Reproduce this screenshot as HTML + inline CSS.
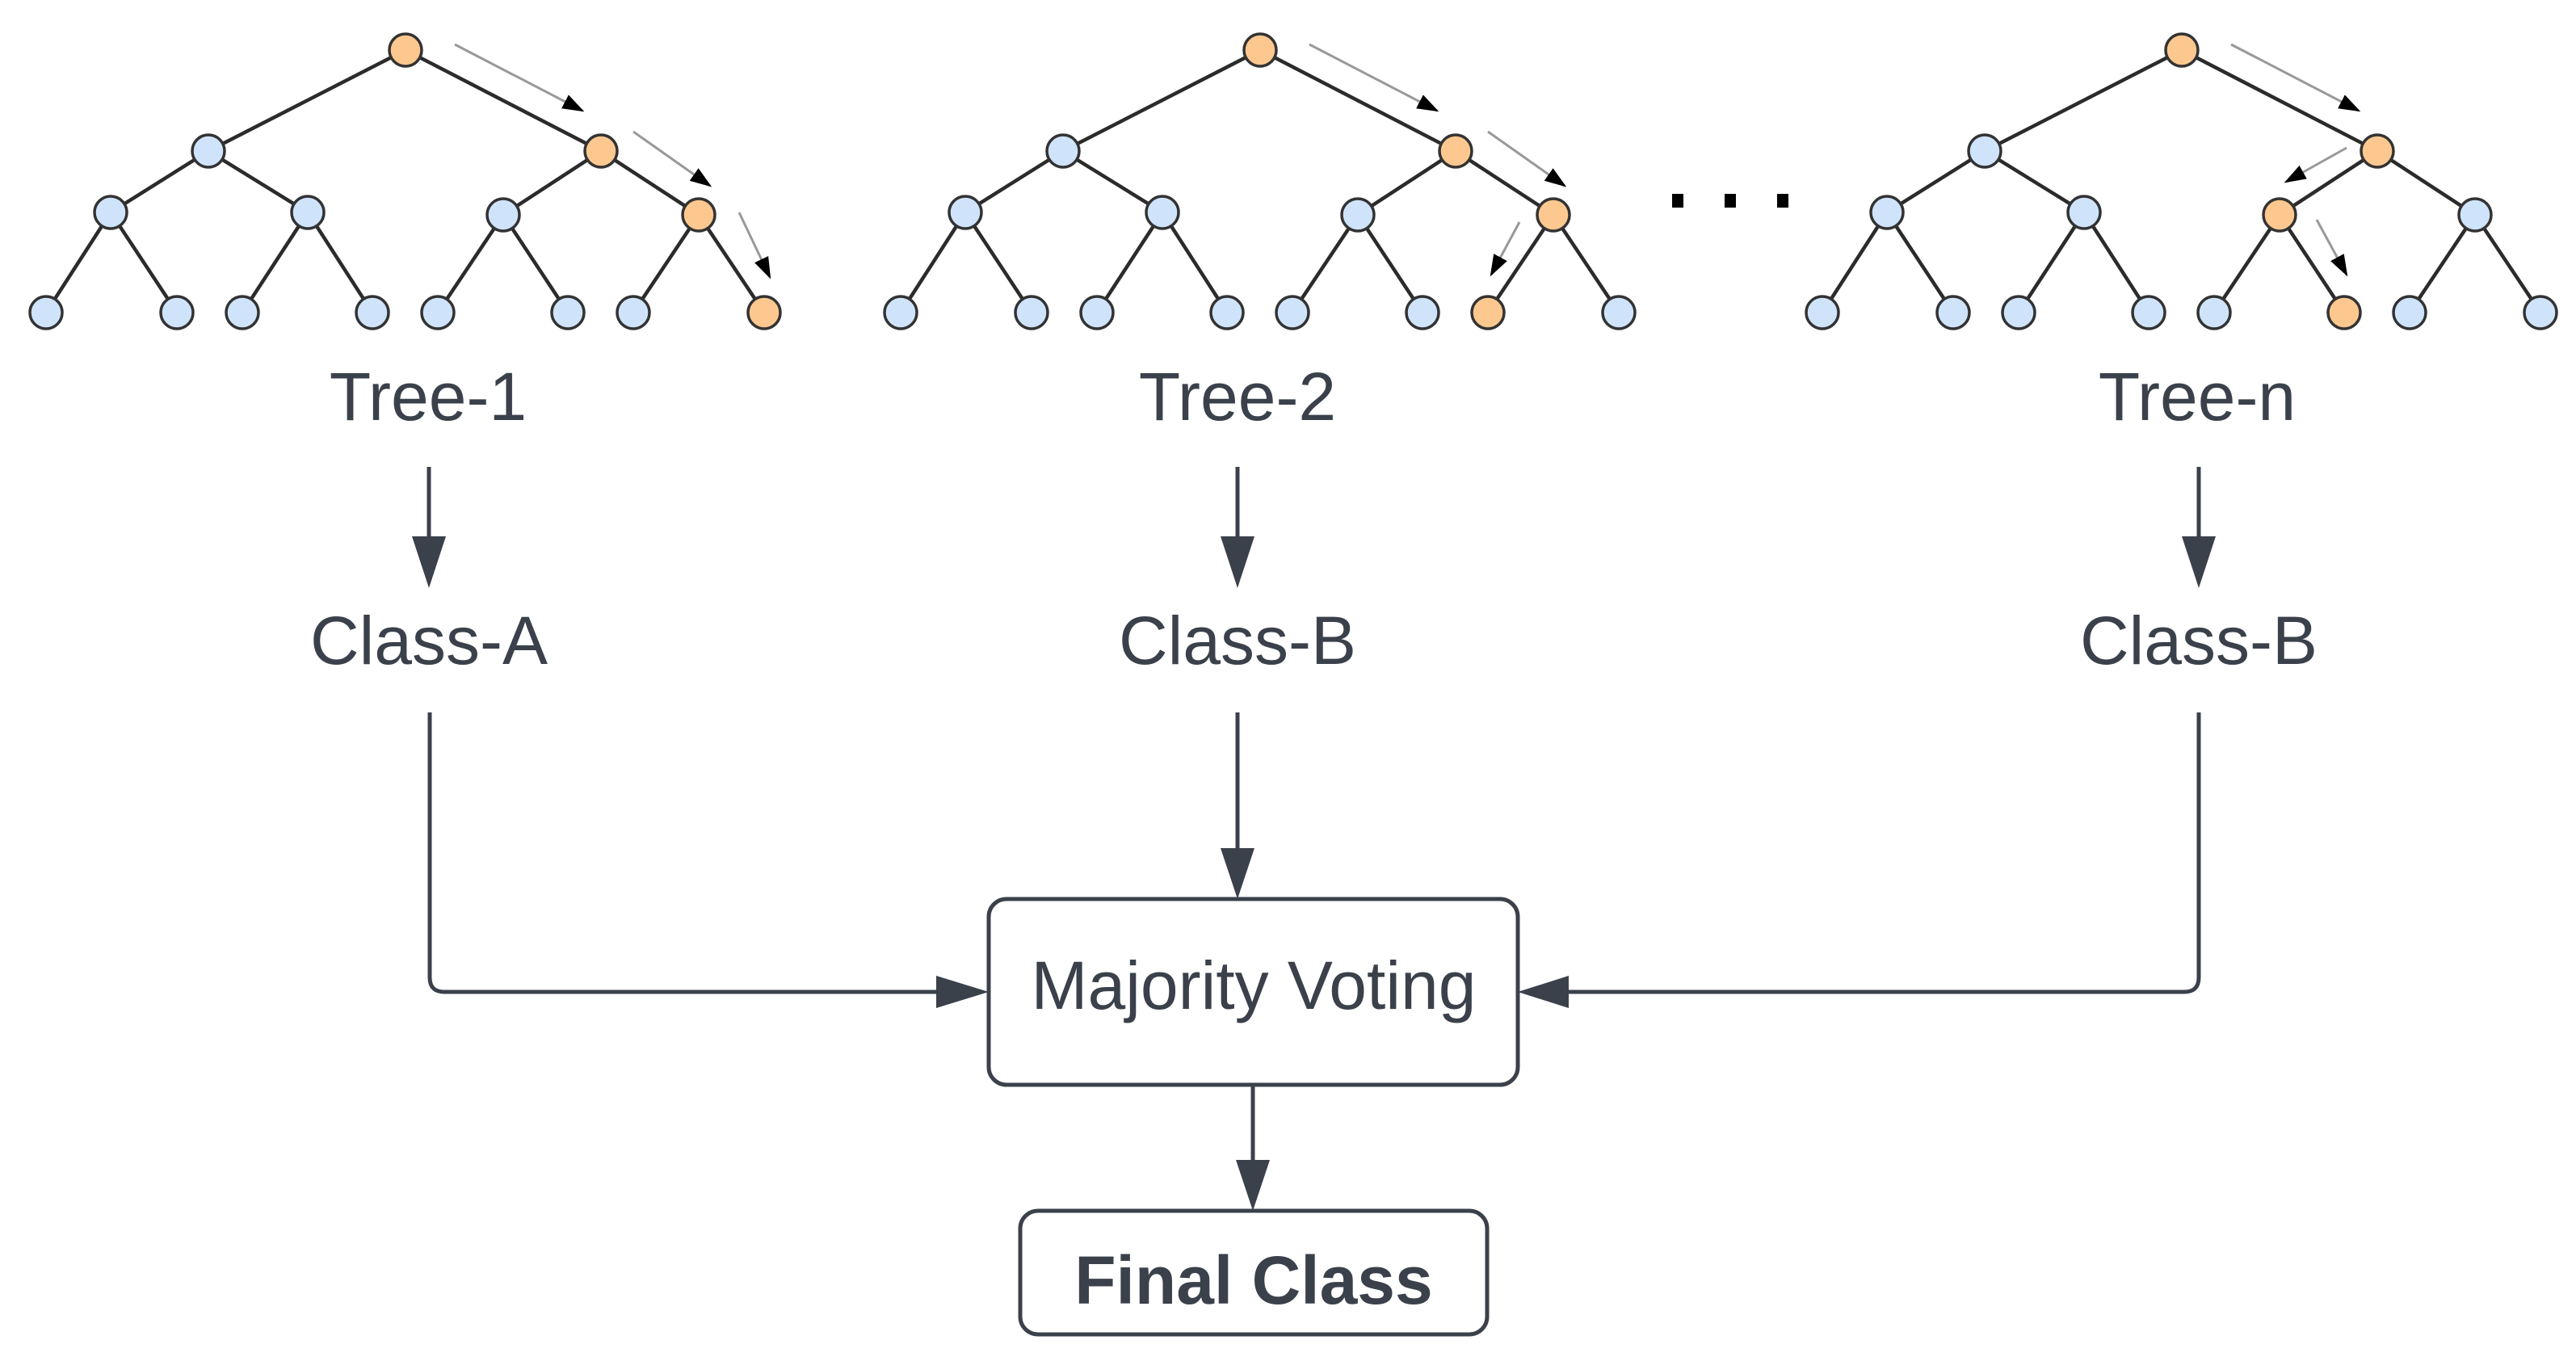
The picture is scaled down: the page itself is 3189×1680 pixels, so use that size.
<!DOCTYPE html>
<html><head><meta charset="utf-8"><style>
html,body{margin:0;padding:0;background:#fff;}
svg{display:block;}
text{font-family:"Liberation Sans",Arial,sans-serif;fill:#3b414b;}
</style></head><body>
<svg width="3189" height="1680" viewBox="0 0 3189 1680" xmlns="http://www.w3.org/2000/svg">
<defs>
<g id="edges" stroke="#2b2b2b" stroke-width="4.5" fill="none">
<line x1="502" y1="62" x2="258" y2="187"/><line x1="502" y1="62" x2="744" y2="187"/>
<line x1="258" y1="187" x2="137" y2="263"/><line x1="258" y1="187" x2="381" y2="263"/>
<line x1="744" y1="187" x2="623" y2="266"/><line x1="744" y1="187" x2="865" y2="266"/>
<line x1="137" y1="263" x2="57" y2="387"/><line x1="137" y1="263" x2="219" y2="387"/>
<line x1="381" y1="263" x2="300" y2="387"/><line x1="381" y1="263" x2="461" y2="387"/>
<line x1="623" y1="266" x2="542" y2="387"/><line x1="623" y1="266" x2="703" y2="387"/>
<line x1="865" y1="266" x2="784" y2="387"/><line x1="865" y1="266" x2="946" y2="387"/>
</g>
<marker id="ah" viewBox="0 0 10 10" refX="9" refY="5" markerWidth="9" markerHeight="9" orient="auto" markerUnits="strokeWidth">
<path d="M0,1.5 L10,5 L0,8.5 z" fill="#000"/></marker>
</defs>

<g>
<use href="#edges"/>
<use href="#edges" transform="translate(1058,0)"/>
<use href="#edges" transform="translate(2199,0)"/>
</g>

<g stroke="#333" stroke-width="3.5" fill="#cfe4fb">
<g>
<circle cx="502" cy="62" r="20" fill="#fdc88f"/>
<circle cx="258" cy="187" r="20"/><circle cx="744" cy="187" r="20" fill="#fdc88f"/>
<circle cx="137" cy="263" r="20"/><circle cx="381" cy="263" r="20"/><circle cx="623" cy="266" r="20"/><circle cx="865" cy="266" r="20" fill="#fdc88f"/>
<circle cx="57" cy="387" r="20"/><circle cx="219" cy="387" r="20"/><circle cx="300" cy="387" r="20"/><circle cx="461" cy="387" r="20"/>
<circle cx="542" cy="387" r="20"/><circle cx="703" cy="387" r="20"/><circle cx="784" cy="387" r="20"/><circle cx="946" cy="387" r="20" fill="#fdc88f"/>
</g>
<g transform="translate(1058,0)">
<circle cx="502" cy="62" r="20" fill="#fdc88f"/>
<circle cx="258" cy="187" r="20"/><circle cx="744" cy="187" r="20" fill="#fdc88f"/>
<circle cx="137" cy="263" r="20"/><circle cx="381" cy="263" r="20"/><circle cx="623" cy="266" r="20"/><circle cx="865" cy="266" r="20" fill="#fdc88f"/>
<circle cx="57" cy="387" r="20"/><circle cx="219" cy="387" r="20"/><circle cx="300" cy="387" r="20"/><circle cx="461" cy="387" r="20"/>
<circle cx="542" cy="387" r="20"/><circle cx="703" cy="387" r="20"/><circle cx="784" cy="387" r="20" fill="#fdc88f"/><circle cx="946" cy="387" r="20"/>
</g>
<g transform="translate(2199,0)">
<circle cx="502" cy="62" r="20" fill="#fdc88f"/>
<circle cx="258" cy="187" r="20"/><circle cx="744" cy="187" r="20" fill="#fdc88f"/>
<circle cx="137" cy="263" r="20"/><circle cx="381" cy="263" r="20"/><circle cx="623" cy="266" r="20" fill="#fdc88f"/><circle cx="865" cy="266" r="20"/>
<circle cx="57" cy="387" r="20"/><circle cx="219" cy="387" r="20"/><circle cx="300" cy="387" r="20"/><circle cx="461" cy="387" r="20"/>
<circle cx="542" cy="387" r="20"/><circle cx="703" cy="387" r="20" fill="#fdc88f"/><circle cx="784" cy="387" r="20"/><circle cx="946" cy="387" r="20"/>
</g>
</g>

<g stroke="#999" stroke-width="3" fill="none" marker-end="url(#ah)">
<line x1="563" y1="55" x2="721" y2="137"/>
<line x1="784" y1="163" x2="879" y2="230"/>
<line x1="915" y1="263" x2="953" y2="343"/>
<line x1="1621" y1="55" x2="1779" y2="137"/>
<line x1="1842" y1="163" x2="1937" y2="230"/>
<line x1="1881" y1="275" x2="1846" y2="340"/>
<line x1="2762" y1="55" x2="2920" y2="137"/>
<line x1="2905" y1="183" x2="2830" y2="225"/>
<line x1="2868" y1="272" x2="2905" y2="340"/>
</g>

<g fill="#000">
<rect x="2070" y="240" width="14" height="17"/>
<rect x="2135" y="240" width="14" height="17"/>
<rect x="2200" y="240" width="14" height="17"/>
</g>

<g font-size="84" text-anchor="middle">
<text x="530" y="520">Tree-1</text>
<text x="1532" y="520">Tree-2</text>
<text x="2720" y="520">Tree-n</text>
<text x="531" y="822">Class-A</text>
<text x="1532" y="822">Class-B</text>
<text x="2722" y="822">Class-B</text>
</g>

<g stroke="#3b414b" stroke-width="5" fill="none">
<line x1="531" y1="578" x2="531" y2="670"/>
<line x1="1532" y1="578" x2="1532" y2="670"/>
<line x1="2722" y1="578" x2="2722" y2="670"/>
<path d="M532,882 V1210 Q532,1228 550,1228 H1165"/>
<line x1="1532" y1="882" x2="1532" y2="1055"/>
<path d="M2722,882 V1210 Q2722,1228 2704,1228 H1935"/>
<line x1="1551" y1="1343" x2="1551" y2="1440"/>
</g>
<g fill="#3b414b">
<path d="M510,664 L552,664 L531,728 z"/>
<path d="M1511,664 L1553,664 L1532,728 z"/>
<path d="M2701,664 L2743,664 L2722,728 z"/>
<path d="M1511,1050 L1553,1050 L1532,1113 z"/>
<path d="M1159,1208 L1159,1248 L1224,1228 z"/>
<path d="M1942,1208 L1942,1248 L1879,1228 z"/>
<path d="M1530,1436 L1572,1436 L1551,1499 z"/>
</g>

<rect x="1224" y="1113" width="655" height="230" rx="22" fill="#fff" stroke="#3b414b" stroke-width="5"/>
<text x="1552" y="1249" font-size="84" text-anchor="middle">Majority Voting</text>
<rect x="1263" y="1499" width="578" height="153" rx="22" fill="#fff" stroke="#3b414b" stroke-width="5"/>
<text x="1552" y="1614" font-size="84" font-weight="bold" text-anchor="middle">Final Class</text>
</svg>
</body></html>
